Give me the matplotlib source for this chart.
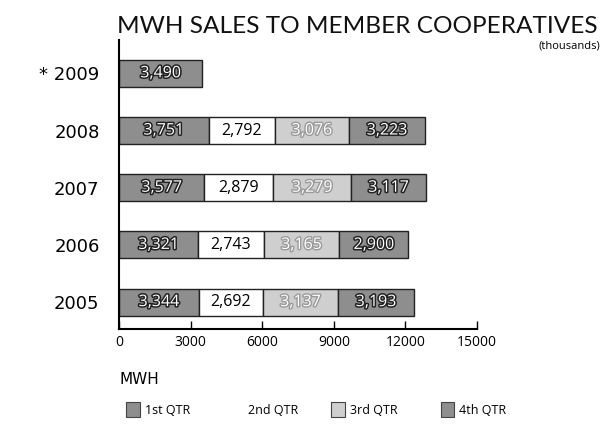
import matplotlib
matplotlib.use("Agg")
from matplotlib import pyplot as plt
import matplotlib.patheffects as pe
from matplotlib.patches import Rectangle

years = ['2005', '2006', '2007', '2008', '* 2009']
q1 = [3344, 3321, 3577, 3751, 3490]
q2 = [2692, 2743, 2879, 2792, 0]
q3 = [3137, 3165, 3279, 3076, 0]
q4 = [3193, 2900, 3117, 3223, 0]
quarters = ['1st QTR', '2nd QTR', '3rd QTR', '4th QTR']
xticks = [0, 3000, 6000, 9000, 12000, 15000]

colors = ['#8e8e8e', '#ffffff', '#cfcfcf', '#8e8e8e']
txt_fx = [
    dict(color='white', path_effects=[pe.withStroke(linewidth=2.2, foreground='#222222')]),
    dict(color='black', path_effects=None),
    dict(color='white', path_effects=[pe.withStroke(linewidth=2.0, foreground='#9a9a9a')]),
    dict(color='white', path_effects=[pe.withStroke(linewidth=2.2, foreground='#222222')]),
]

fig = plt.figure(figsize=(6.08, 4.26), dpi=100)
ax = fig.add_axes([0.1957, 0.2277, 0.5888, 0.678])

series = [q1, q2, q3, q4]
ypos = list(range(len(years)))
left = [0] * len(years)
for i, vals in enumerate(series):
    for y, v, l in zip(ypos, vals, left):
        if v == 0:
            continue
        ax.barh(y, v, left=l, height=0.47, color=colors[i], edgecolor='#222222', linewidth=1)
        t = ax.text(l + v / 2, y, f'{v:,}', ha='center', va='center', fontsize=11.5,
                    family='Open Sans', color=txt_fx[i]['color'])
        if txt_fx[i]['path_effects']:
            t.set_path_effects(txt_fx[i]['path_effects'])
    left = [a + b for a, b in zip(left, vals)]

ax.set_xlim(0, 15000)
ax.set_ylim(-0.47, 4.58)
ax.set_xticks(xticks)
ax.set_xticklabels([str(x) for x in xticks], family='Open Sans', fontsize=10)
ax.tick_params(axis='x', direction='in', length=6, width=1, pad=4)
ax.set_yticks(ypos)
ax.set_yticklabels(years, fontsize=13, family='DejaVu Sans')
ax.tick_params(axis='y', length=0, pad=14)
for s in ['top', 'right']:
    ax.spines[s].set_visible(False)
ax.spines['left'].set_linewidth(1.5)
ax.spines['bottom'].set_linewidth(1.5)

fig.text(0.192, 0.922, 'MWH SALES TO MEMBER COOPERATIVES', fontsize=17.6,
         family='Lato', ha='left', va='baseline', color='#111111')
fig.text(0.988, 0.885, '(thousands)', fontsize=8, family='Open Sans', ha='right', va='baseline')

fig.text(0.197, 0.098, 'MWH', fontsize=11, family='DejaVu Sans', ha='left', va='baseline')

legend_x = [0.208, 0.39, 0.545, 0.725]
for i, q in enumerate(quarters):
    x = legend_x[i]
    if colors[i] != '#ffffff':
        fig.add_artist(Rectangle((x, 0.022), 0.022, 0.034, transform=fig.transFigure,
                                 facecolor=colors[i], edgecolor='#444444', linewidth=0.8))
    fig.text(x + 0.03 if colors[i] != '#ffffff' else x + 0.018, 0.027, q, fontsize=9,
             family='Open Sans', ha='left', va='baseline')

fig.savefig('out.png', dpi=100)
